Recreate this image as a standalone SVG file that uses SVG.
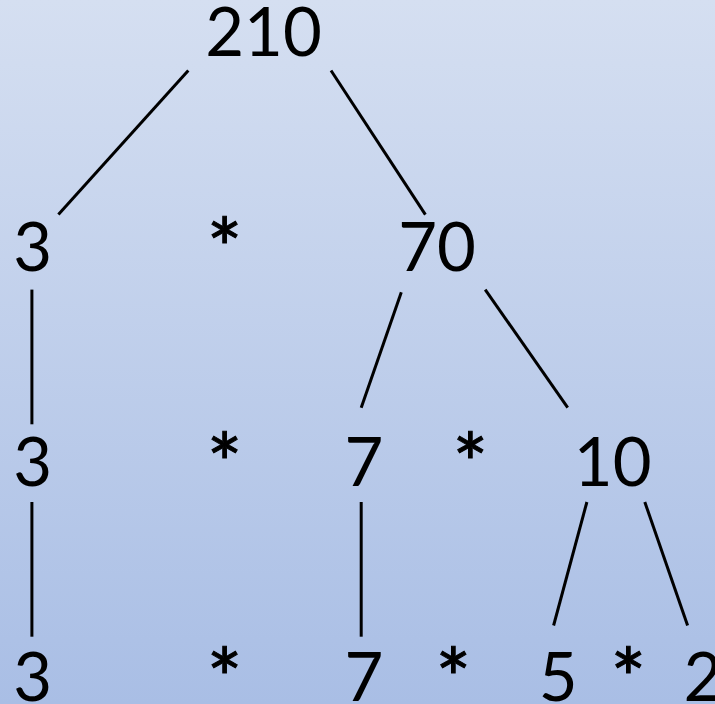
<svg xmlns="http://www.w3.org/2000/svg" width="715" height="704" viewBox="0 0 715 704">
<defs>
<linearGradient id="bg" x1="0" y1="0" x2="0" y2="1">
<stop offset="0" stop-color="#d5dff1"/>
<stop offset="1" stop-color="#a9bee5"/>
</linearGradient>
<style>
.t{font-family:Lato,"Open Sans","Liberation Sans",sans-serif;font-size:67px;fill:#000;text-anchor:middle}
.s{font-size:84px;stroke:#000;stroke-width:1}
.c line{stroke:#000;stroke-width:3;fill:none}
</style>
</defs>
<rect x="0" y="0" width="715" height="704" fill="url(#bg)"/>
<g id="connectors" class="c">
<line x1="188.3" y1="70.5" x2="58.4" y2="214.6"/>
<line x1="331" y1="70.5" x2="425.4" y2="214.6"/>
<line x1="31.9" y1="289.6" x2="31.9" y2="424.3"/>
<line x1="31.9" y1="502" x2="31.9" y2="636.7"/>
<line x1="401.3" y1="292.3" x2="361.2" y2="407.7"/>
<line x1="485.2" y1="289.6" x2="567.7" y2="407.7"/>
<line x1="361.2" y1="502" x2="361.2" y2="636.7"/>
<line x1="586.9" y1="502" x2="553.6" y2="625.5"/>
<line x1="644.8" y1="502" x2="687.6" y2="625.5"/>
</g>
<g id="n210"><text class="t" x="263.5" y="56">210</text></g>
<g id="n3a"><text class="t" x="32.8" y="271">3</text></g>
<g id="s1"><text class="t s" x="224.5" y="279">*</text></g>
<g id="n70"><text class="t" x="437" y="271">70</text></g>
<g id="n3b"><text class="t" x="32.8" y="486">3</text></g>
<g id="s2"><text class="t s" x="224.5" y="494">*</text></g>
<g id="n7a"><text class="t" x="364" y="486">7</text></g>
<g id="s3"><text class="t s" x="470.3" y="494">*</text></g>
<g id="n10"><text class="t" x="612.7" y="486">10</text></g>
<g id="n3c"><text class="t" x="32.8" y="701">3</text></g>
<g id="s4"><text class="t s" x="224.5" y="709">*</text></g>
<g id="n7b"><text class="t" x="364" y="701">7</text></g>
<g id="s5"><text class="t s" x="453.3" y="709">*</text></g>
<g id="n5"><text class="t" x="558.3" y="701">5</text></g>
<g id="s6"><text class="t s" x="628.3" y="709">*</text></g>
<g id="n2"><text class="t" x="703" y="701">2</text></g>
</svg>
